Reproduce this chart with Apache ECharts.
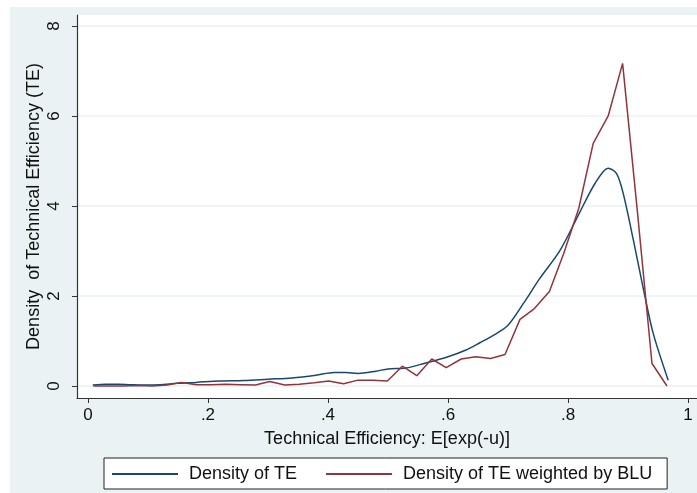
<!DOCTYPE html>
<html>
<head>
<meta charset="utf-8">
<script src="https://cdn.jsdelivr.net/npm/echarts@6/dist/echarts.min.js"></script>
<style>
  html, body { margin: 0; padding: 0; background: #fff; }
  #chart { width: 697px; height: 493px; }
</style>
</head>
<body>
<div id="chart"></div>
<script>
// x positions
const blueX = [0.008, 0.03, 0.05, 0.07, 0.1, 0.12, 0.15, 0.18, 0.22, 0.26, 0.3, 0.34, 0.38, 0.41, 0.43, 0.45, 0.48, 0.5, 0.53, 0.56, 0.6, 0.63, 0.653, 0.68, 0.7, 0.726, 0.753, 0.787, 0.82, 0.845, 0.867, 0.881, 0.892, 0.909, 0.926, 0.942, 0.967]
const blueY = [0.02, 0.04, 0.04, 0.03, 0.02, 0.03, 0.06, 0.08, 0.11, 0.12, 0.15, 0.18, 0.24, 0.3, 0.3, 0.28, 0.33, 0.38, 0.4, 0.5, 0.65, 0.8, 0.96, 1.16, 1.35, 1.84, 2.39, 3.02, 3.87, 4.5, 4.84, 4.72, 4.28, 3.24, 2.13, 1.17, 0.13]

const redX = [0.009, 0.034, 0.058, 0.083, 0.107, 0.132, 0.156, 0.181, 0.205, 0.23, 0.254, 0.279, 0.303, 0.328, 0.352, 0.377, 0.401, 0.426, 0.45, 0.475, 0.499, 0.524, 0.548, 0.573, 0.597, 0.622, 0.646, 0.671, 0.695, 0.72, 0.744, 0.769, 0.793, 0.818, 0.842, 0.867, 0.891, 0.916, 0.94, 0.965]
const redY = [0.0, 0.0, 0.0, 0.01, 0.0, 0.02, 0.08, 0.03, 0.03, 0.04, 0.03, 0.02, 0.1, 0.02, 0.04, 0.07, 0.11, 0.05, 0.13, 0.13, 0.11, 0.44, 0.23, 0.6, 0.41, 0.6, 0.65, 0.61, 0.7, 1.48, 1.72, 2.1, 2.95, 3.95, 5.39, 6.0, 7.17, 3.83, 0.5, 0.0]

const xTicks = [0, 0.2, 0.4, 0.6, 0.8, 1]
const xTickLabels = ['0', '.2', '.4', '.6', '.8', '1']
const yTicks = [0, 2, 4, 6, 8]

const seriesNames = ['Density of TE', 'Density of TE weighted by BLU']

const font = 'Liberation Sans, Arial, sans-serif'

const myChart = echarts.init(document.getElementById('chart'))

const option = {
  animation: false,
  backgroundColor: '#ffffff',
  textStyle: { fontFamily: font },
  graphic: [
    { type: 'rect', z: -20, shape: { x: 10, y: 7, width: 687, height: 486 }, style: { fill: '#eaf2f3' }, silent: true },
    { type: 'rect', z: -19, shape: { x: 77, y: 15, width: 620, height: 383 }, style: { fill: '#ffffff' }, silent: true }
  ],
  grid: {
    left: 77,
    top: 15,
    right: 0,
    height: 383,
    show: false
  },
  legend: {
    data: seriesNames,
    icon: 'rect',
    left: 104,
    top: 458,
    padding: [7, 15, 6, 8],
    itemGap: 29,
    itemWidth: 66,
    itemHeight: 2,
    backgroundColor: '#ffffff',
    borderColor: '#222222',
    borderWidth: 1,
    textStyle: { fontFamily: font, fontSize: 18, color: '#111', padding: [0, 0, 0, 6] }
  },
  xAxis: {
    type: 'value',
    min: -0.0183,
    max: 1.015,
    name: 'Technical Efficiency: E[exp(-u)]',
    nameLocation: 'middle',
    nameGap: 32,
    nameTextStyle: { fontFamily: font, fontSize: 18, color: '#111' },
    axisLine: { show: true, onZero: false, lineStyle: { color: '#333', width: 1.2 } },
    axisTick: { show: true, length: 5, customValues: xTicks, lineStyle: { color: '#333' } },
    axisLabel: {
      customValues: xTicks,
      margin: 9,
      fontSize: 17,
      color: '#111',
      fontFamily: font,
      formatter: v => xTickLabels[xTicks.findIndex(t => Math.abs(t - v) < 1e-6)]
    },
    splitLine: { show: false }
  },
  yAxis: {
    type: 'value',
    min: -0.267,
    max: 8.244,
    name: 'Density  of Technical Efficiency (TE)',
    nameLocation: 'middle',
    nameGap: 34,
    nameMoveOverlap: false,
    nameRotate: 90,
    nameTextStyle: { fontFamily: font, fontSize: 18, color: '#111' },
    axisLine: { show: true, onZero: false, lineStyle: { color: '#333', width: 1.2 } },
    axisTick: { show: true, length: 5, customValues: yTicks, lineStyle: { color: '#333' } },
    axisLabel: {
      customValues: yTicks,
      rotate: 90,
      margin: 14,
      fontSize: 17,
      color: '#111',
      fontFamily: font
    },
    splitLine: { show: true, lineStyle: { color: '#eaf2f3', width: 1.5 } }
  },
  series: [
    {
      name: seriesNames[0],
      type: 'line',
      data: blueX.map((x, i) => [x, blueY[i]]),
      symbol: 'none',
      smooth: 0.3,
      lineStyle: { color: '#1a476f', width: 1.5 },
      itemStyle: { color: '#1a476f' }
    },
    {
      name: seriesNames[1],
      type: 'line',
      data: redX.map((x, i) => [x, redY[i]]),
      symbol: 'none',
      lineStyle: { color: '#90353b', width: 1.5 },
      itemStyle: { color: '#90353b' }
    }
  ]
}

myChart.setOption(option)
</script>
</body>
</html>
